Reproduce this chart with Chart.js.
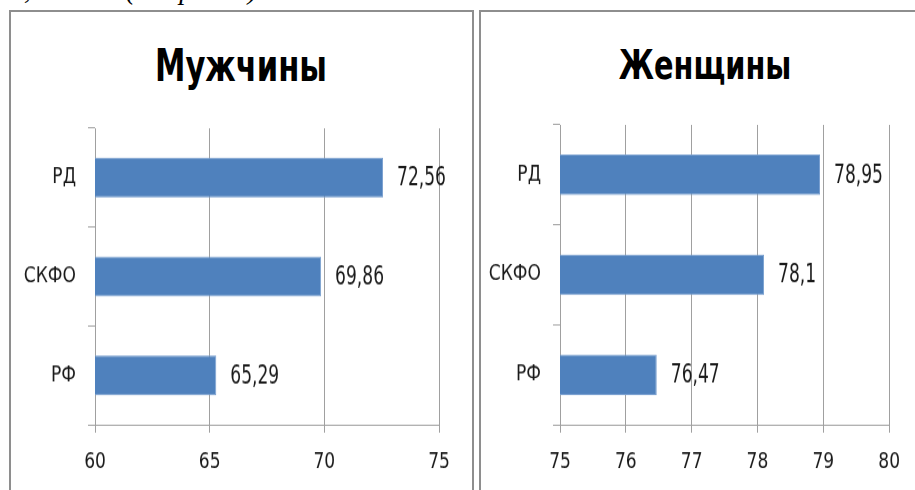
<!DOCTYPE html>
<html>
<head>
<meta charset="utf-8">
<script src="https://cdn.jsdelivr.net/npm/chart.js@4.4.1/dist/chart.umd.min.js"></script>
<style>
  body { margin: 0; width: 915px; height: 490px; overflow: hidden; background: #fff; position: relative; }
  .topline { position: absolute; left: 10px; top: -24px; font: italic 28px "Liberation Serif", serif; line-height: 28px; white-space: nowrap; color: #000; }
  .panel { position: absolute; top: 10px; height: 500px; border: 2px solid #8e8e8e; box-sizing: border-box; background: #fff; }
  #pMen { left: 9px; width: 465px; }
  #pWomen { left: 479px; width: 460px; }
  .title { position: absolute; top: 31px; font: bold 34px "DejaVu Sans Condensed", "Open Sans", sans-serif; line-height: 34px; color: #000; transform: translateX(-50%) scaleY(1.3); transform-origin: 50% 0; white-space: nowrap; }
  canvas { position: absolute; top: 0; left: 0; transform: scaleY(1.14); transform-origin: 0 0; }
</style>
</head>
<body>
<div class="topline">0,58 года (см. рис. 3).</div>

<div class="panel" id="pMen">
  <div class="title" style="left:230px">Мужчины</div>
  <canvas id="menChart" width="462" height="419"></canvas>
</div>
<div class="panel" id="pWomen">
  <div class="title" style="left:224px; font-size:32px">Женщины</div>
  <canvas id="womenChart" width="434" height="419"></canvas>
</div>

<script>
// Data
const regions = ['РД', 'СКФО', 'РФ'];
const menValues = [72.56, 69.86, 65.29];
const womenValues = [78.95, 78.1, 76.47];
const menTicks = [60, 65, 70, 75];
const womenTicks = [75, 76, 77, 78, 79, 80];

const FONT = '"DejaVu Sans Condensed", "Open Sans", sans-serif';
const GRID = '#a0a0a0';

// value labels to the right of each bar, decimal comma, a bit taller than tick text
const valueLabels = {
    id: 'valueLabels',
    afterDatasetsDraw(chart) {
        const ctx = chart.ctx;
        const meta = chart.getDatasetMeta(0);
        const data = chart.data.datasets[0].data;
        ctx.save();
        ctx.font = '19px ' + FONT;
        ctx.fillStyle = '#1a1a1a';
        ctx.textAlign = 'left';
        ctx.textBaseline = 'middle';
        meta.data.forEach((bar, i) => {
            ctx.save();
            ctx.translate(bar.x + 14, bar.y + 1);
            ctx.scale(1, 1.2);
            ctx.fillText(String(data[i]).replace('.', ','), 0, 0);
            ctx.restore();
        });
        ctx.restore();
    }
};

function makeChart(id, values, ticks, pad, yWidth) {
    const ctx = document.getElementById(id).getContext('2d');
    return new Chart(ctx, {
        type: 'bar',
        data: {
            labels: regions,
            datasets: [{
                data: values,
                backgroundColor: '#4f81bd',
                borderColor: '#7aa0d0',
                borderWidth: 1,
                borderSkipped: false,
                categoryPercentage: 1,
                barPercentage: 0.404
            }]
        },
        options: {
            indexAxis: 'y',
            responsive: false,
            animation: false,
            layout: { padding: pad },
            plugins: { legend: { display: false }, tooltip: { enabled: false } },
            scales: {
                x: {
                    min: ticks[0],
                    max: ticks[ticks.length - 1],
                    afterBuildTicks: (scale) => { scale.ticks = ticks.map(v => ({ value: v })); },
                    afterFit: (scale) => { scale.height = 57; },
                    ticks: { font: { family: FONT, size: 19 }, color: '#1a1a1a', padding: 15 },
                    grid: { color: GRID, tickLength: 7 },
                    border: { color: GRID }
                },
                y: {
                    afterFit: (scale) => { scale.width = yWidth; },
                    ticks: { font: { family: FONT, size: 19 }, color: '#1a1a1a', padding: 12 },
                    grid: { drawOnChartArea: false, offset: true, color: GRID, tickLength: 7 },
                    border: { color: GRID }
                }
            }
        },
        plugins: [valueLabels]
    });
}

makeChart('menChart', menValues, menTicks, { top: 102, right: 34, left: 0, bottom: 0 }, 84);
makeChart('womenChart', womenValues, womenTicks, { top: 99, right: 21, left: 0, bottom: 0 }, 79);
</script>
</body>
</html>
